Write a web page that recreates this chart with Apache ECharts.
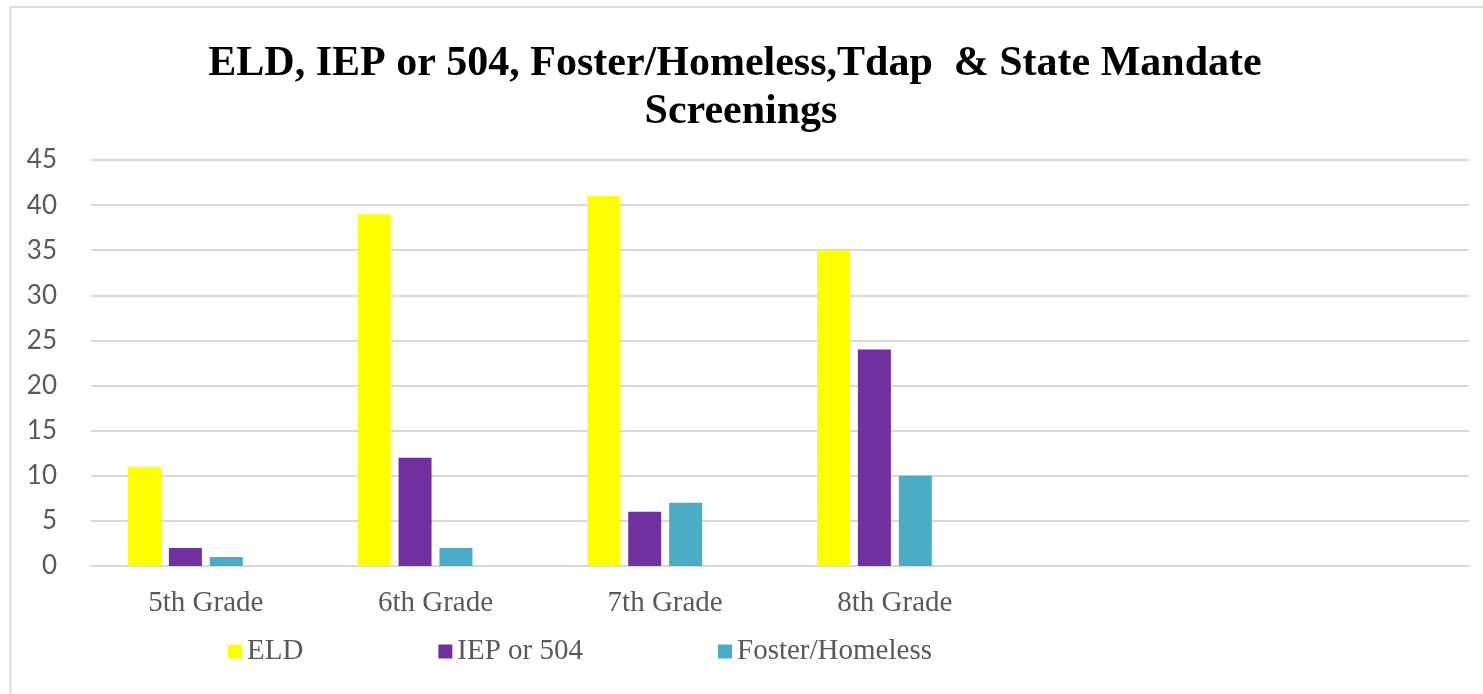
<!DOCTYPE html>
<html>
<head>
<meta charset="utf-8">
<script src="https://cdn.jsdelivr.net/npm/echarts@6/dist/echarts.min.js"></script>
<style>html,body{margin:0;padding:0;background:#fff;}#chart{width:1483px;height:694px;}</style>
</head>
<body>
<div id="chart"></div>
<script>
var categories = ['5th Grade', '6th Grade', '7th Grade', '8th Grade', '', ''];
var eld = [11, 39, 41, 35, '-', '-'];
var iep = [2, 12, 6, 24, '-', '-'];
var foster = [1, 2, 7, 10, '-', '-'];
var tdap = [0, 0, 0, 0, '-', '-'];
var yTicks = [0, 5, 10, 15, 20, 25, 30, 35, 40, 45];
var titleLine1 = 'ELD, IEP or 504, Foster/Homeless,Tdap  & State Mandate';
var titleLine2 = 'Screenings';

var chart = echarts.init(document.getElementById('chart'), null, {renderer: 'canvas'});
var serif = '"Liberation Serif", "Times New Roman", serif';
var barCommon = {type: 'bar', barWidth: 33, barGap: '24%', barCategoryGap: '20%'};
chart.setOption({
  animation: false,
  backgroundColor: '#fff',
  graphic: [
    {type: 'line', shape: {x1: 10, y1: 7, x2: 1483, y2: 7}, style: {stroke: '#dcdcdc', lineWidth: 2}, silent: true},
    {type: 'line', shape: {x1: 10.5, y1: 6, x2: 10.5, y2: 694}, style: {stroke: '#dcdcdc', lineWidth: 2}, silent: true},
    {type: 'text', x: 735, y: 64, style: {text: titleLine1, font: 'bold 42px ' + serif, fill: '#000', align: 'center', verticalAlign: 'middle'}},
    {type: 'text', x: 741, y: 112, style: {text: titleLine2, font: 'bold 42px ' + serif, fill: '#000', align: 'center', verticalAlign: 'middle'}}
  ],
  legend: {
    data: ['ELD', 'IEP or 504', 'Foster/Homeless'],
    left: 223, top: 632,
    icon: 'rect', itemWidth: 14, itemHeight: 14, itemGap: 135,
    textStyle: {fontFamily: serif, fontSize: 29, color: '#595959'}
  },
  grid: {left: 91, right: 14, top: 160, bottom: 128},
  xAxis: {
    type: 'category', data: categories,
    axisLine: {show: true, lineStyle: {color: '#d9d9d9', width: 2}},
    axisTick: {show: false},
    axisLabel: {fontFamily: serif, fontSize: 29, color: '#595959', margin: 23, interval: 0}
  },
  yAxis: {
    type: 'value', min: yTicks[0], max: yTicks[yTicks.length - 1], interval: 5,
    axisLine: {show: false}, axisTick: {show: false},
    axisLabel: {fontFamily: 'Lato, "Open Sans", sans-serif', fontSize: 26, color: '#595959', margin: 34},
    splitLine: {lineStyle: {color: '#d9d9d9', width: 2}}
  },
  series: [
    Object.assign({name: 'ELD', data: eld, itemStyle: {color: '#ffff00'}}, barCommon),
    Object.assign({name: 'IEP or 504', data: iep, itemStyle: {color: '#7030a0'}}, barCommon),
    Object.assign({name: 'Foster/Homeless', data: foster, itemStyle: {color: '#4bacc6'}}, barCommon),
    Object.assign({name: 'Tdap', data: tdap, itemStyle: {color: '#f79646'}}, barCommon)
  ]
});
</script>
</body>
</html>
